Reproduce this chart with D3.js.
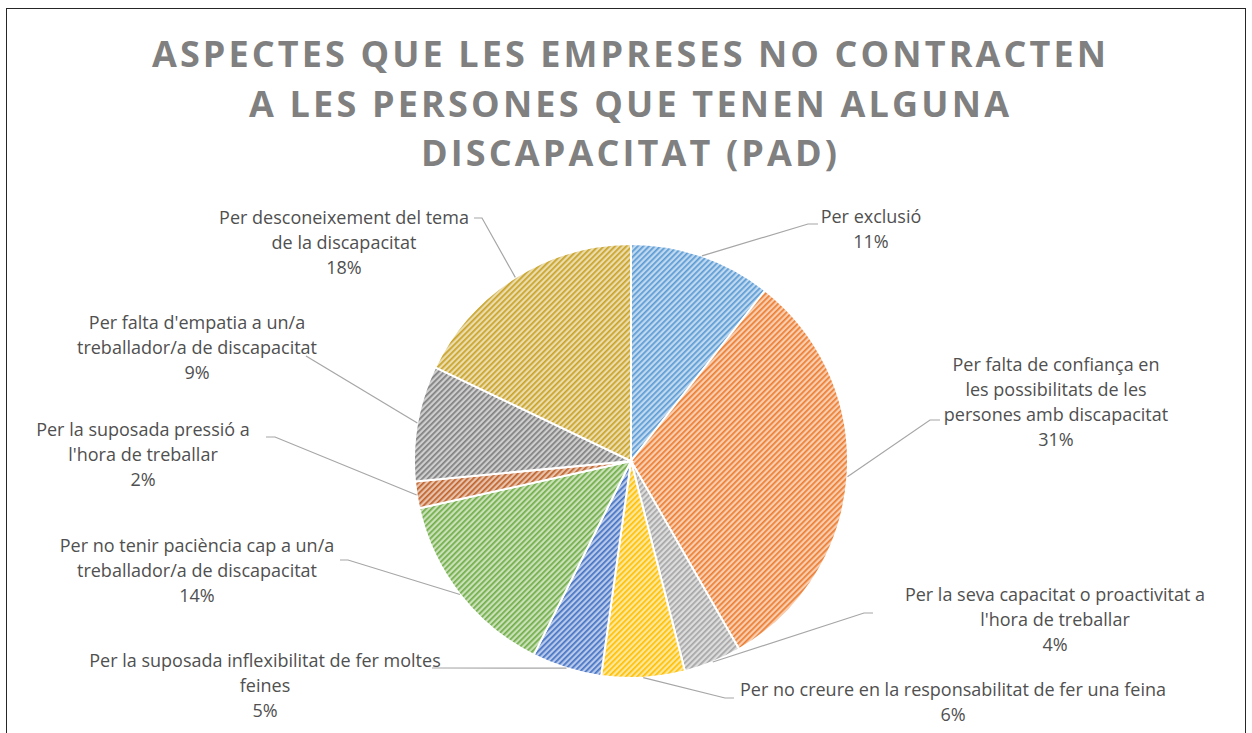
<!DOCTYPE html>
<html>
<head>
<meta charset="utf-8">
<script src="https://d3js.org/d3.v7.min.js"></script>
<style>
  body { margin: 0; background: #fff; }
  svg { display: block; }
  .lbl { font-family: "Open Sans", sans-serif; font-size: 18px; fill: #505050; }
  .title { font-family: "Open Sans", sans-serif; font-weight: 700; fill: #808080; }
</style>
</head>
<body>
<svg width="1252" height="733"></svg>
<script>
  // data
  const categories = [
    "Per exclusió",
    "Per falta de confiança en les possibilitats de les persones amb discapacitat",
    "Per la seva capacitat o proactivitat a l'hora de treballar",
    "Per no creure en la responsabilitat de fer una feina",
    "Per la suposada inflexibilitat de fer moltes feines",
    "Per no tenir paciència cap a un/a treballador/a de discapacitat",
    "Per la suposada pressió a l'hora de treballar",
    "Per falta d'empatia a un/a treballador/a de discapacitat",
    "Per desconeixement del tema de la discapacitat"
  ];
  const values = [10.6, 31.1, 4.3, 6.2, 5.2, 14.1, 2.0, 8.6, 17.9];
  const colors = ["#5B9BD5", "#ED7D31", "#A5A5A5", "#FFC000", "#4472C4", "#70AD47", "#C0622A", "#7F7F7F", "#C9A227"];
  const labelLines = [
    ["Per exclusió"],
    ["Per falta de confiança en", "les possibilitats de les", "persones amb discapacitat"],
    ["Per la seva capacitat o proactivitat a", "l'hora de treballar"],
    ["Per no creure en la responsabilitat de fer una feina"],
    ["Per la suposada inflexibilitat de fer moltes", "feines"],
    ["Per no tenir paciència cap a un/a", "treballador/a de discapacitat"],
    ["Per la suposada pressió a", "l'hora de treballar"],
    ["Per falta d'empatia a un/a", "treballador/a de discapacitat"],
    ["Per desconeixement del tema", "de la discapacitat"]
  ];
  const titleLines = ["ASPECTES QUE LES EMPRESES NO CONTRACTEN", "A LES PERSONES QUE TENEN ALGUNA", "DISCAPACITAT (PAD)"];

  // layout
  const cx = 631, cy = 461, r = 217;
  const labelPos = [[871, 223], [1056, 371], [1055, 601], [953, 696], [265, 667], [197, 552], [143, 436], [197, 329], [344, 224]];
  const knees = [[808, 224, 818], [930, 420, 940], [864, 613, 873], [725, 698, 734], [441, 668, 432], [348, 560, 340], [275, 437, 266], [306, 356, 306], [482, 218, 474]];

  const svg = d3.select("svg");
  svg.append("rect").attr("x", 6.5).attr("y", 8.5).attr("width", 1239).attr("height", 800)
    .attr("fill", "#fff").attr("stroke", "#262626").attr("stroke-width", 1);

  // title
  const tw = [954, 760, 416];
  const ty = [67, 117, 166];
  titleLines.forEach((t, i) => {
    const el = svg.append("text").attr("class", "title").attr("x", 629).attr("y", ty[i])
      .attr("text-anchor", "middle").style("font-size", "36px").text(t);
    const len = el.node().getComputedTextLength();
    const ls = (tw[i] - len) / (t.length - 1);
    el.style("letter-spacing", ls + "px");
    el.attr("x", 629 + ls / 2);
  });

  // patterns
  const defs = svg.append("defs");
  colors.forEach((c, i) => {
    const p = defs.append("pattern").attr("id", "pat" + i)
      .attr("patternUnits", "userSpaceOnUse").attr("width", 4).attr("height", 4)
      .attr("patternTransform", "rotate(45)");
    p.append("rect").attr("width", 4).attr("height", 4).attr("fill", d3.interpolateRgb(c, "#fff")(0.62));
    p.append("rect").attr("width", 1.7).attr("height", 4).attr("fill", c);
  });

  const pie = d3.pie().sort(null).value(d => d)(values);
  const arc = d3.arc().innerRadius(0).outerRadius(r);
  const g = svg.append("g").attr("transform", `translate(${cx},${cy})`);
  g.selectAll("path").data(pie).join("path")
    .attr("d", arc)
    .attr("fill", (d, i) => `url(#pat${i})`)
    .attr("stroke", "#fff").attr("stroke-width", 2);

  // leader lines
  const total = d3.sum(values);
  pie.forEach((d, i) => {
    const a = (d.startAngle + d.endAngle) / 2;
    const sx = cx + r * Math.sin(a), sy = cy - r * Math.cos(a);
    const k = knees[i];
    svg.append("polyline")
      .attr("points", `${sx},${sy} ${k[0]},${k[1]} ${k[2]},${k[1]}`)
      .attr("fill", "none").attr("stroke", "#A6A6A6").attr("stroke-width", 1.2);
  });

  // labels
  const fmt = d3.format(".0%");
  labelLines.forEach((lines, i) => {
    const t = svg.append("text").attr("class", "lbl").attr("text-anchor", "middle");
    const all = lines.concat([fmt(values[i] / total)]);
    all.forEach((s, j) => {
      t.append("tspan").attr("x", labelPos[i][0]).attr("y", labelPos[i][1] + j * 25).text(s);
    });
  });
</script>
</body>
</html>
